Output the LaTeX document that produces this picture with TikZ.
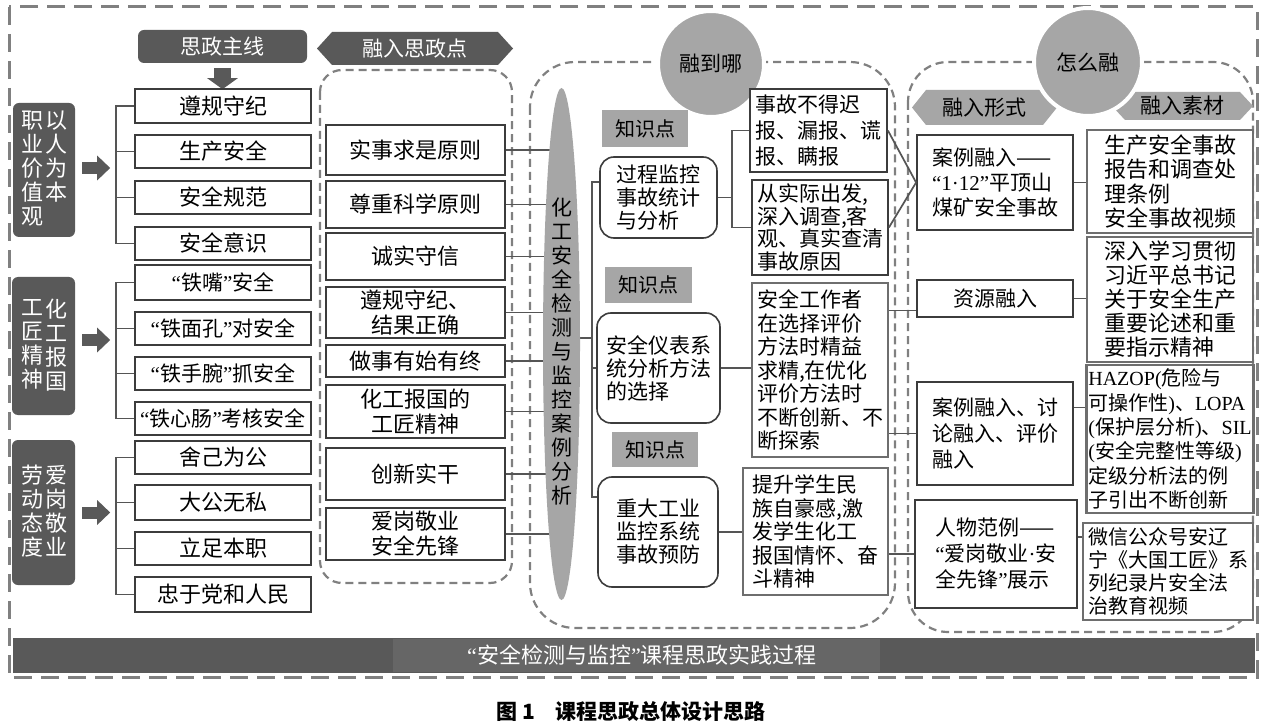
\documentclass[tikz,border=0pt]{standalone}
\usepackage{fontspec}
\setmainfont{Noto Sans CJK SC}
\newfontfamily\lat{Liberation Serif}
\usetikzlibrary{shapes.geometric,arrows.meta}
\definecolor{dk}{HTML}{595959}
\definecolor{band}{HTML}{666666}
\definecolor{md}{HTML}{A6A6A6}
\definecolor{ln}{HTML}{555555}
\definecolor{dsh}{HTML}{808080}
\definecolor{bx}{HTML}{3C3C3C}
\definecolor{bxg}{HTML}{6E6E6E}
\newcommand\fz[2]{\fontsize{#1}{#2}\selectfont}
\newcommand\oq{{\lat “}}
\newcommand\cq{{\lat ”}}
\begin{document}
\begin{tikzpicture}[x=1pt,y=-1pt,
  sbox/.style={draw=bx, line width=1.8pt, fill=white, inner sep=2pt, align=center, font=\fz{22}{25}},
  tbox/.style={draw=bx, line width=1.8pt, fill=white, inner sep=3pt, align=left, font=\fz{21}{23.5}},
  gbox/.style={draw=bxg, line width=2.8pt, fill=white, inner sep=2pt, align=left, font=\fz{22}{24.5}},
  rbox/.style={draw=bx, line width=1.6pt, fill=white, rounded corners=14pt, inner sep=3pt, align=left, font=\fz{21}{23}},
  dbox/.style={fill=dk, rounded corners=6pt, inner sep=0pt},
  vtxt/.style={text=white, align=center, font=\fz{22}{24}, inner sep=0pt},
  kbox/.style={fill=md, font=\fz{20}{24}, inner sep=0pt},
  circ/.style={circle, fill=md, draw=white, line width=4pt, inner sep=0pt, font=\fz{21}{25}},
  pillst/.style={ellipse, fill=md, inner sep=0pt, minimum width=37pt, minimum height=512pt},
  conn/.style={draw=ln, line width=1.7pt},
  region/.style={draw=dsh, line width=2.2pt, dash pattern=on 8pt off 5pt},
  barr/.style={dk, line width=12pt, -{Triangle[width=24pt,length=13pt]}},
]
\useasboundingbox (0,0) rectangle (1266,727);
\fill[white] (0,0) rectangle (1266,727);

% outer frame and regions
\draw[draw=dsh, line width=3pt, dash pattern=on 18pt off 9pt] (9,7) rectangle (1257,677);
\draw[region, rounded corners=22pt] (320,70) rectangle (512,583);
\draw[region, rounded corners=45pt] (530,62) rectangle (895,628);
\draw[region, rounded corners=40pt] (908,62) rectangle (1253,632);

% banners
\fill[dk] (317,48.5) -- (332,32) -- (498,32) -- (513,48.5) -- (498,65) -- (332,65) -- cycle;
\node[font=\fz{21}{25}, text=white] (h1) at (415,48.5) {融入思政点};
\fill[md] (912,107.5) -- (926,90) -- (1043,90) -- (1057,107.5) -- (1043,125) -- (926,125) -- cycle;
\node[font=\fz{21}{25}] (h2) at (984.5,107.5) {融入形式};
\fill[md] (1112,106) -- (1125,92) -- (1240,92) -- (1253,106) -- (1240,120) -- (1125,120) -- cycle;
\node[font=\fz{21}{25}] (h3) at (1182.5,106) {融入素材};

% circles
\node[circ, minimum size=106pt] (q1) at (711,64) {融到哪};
\node[circ, minimum size=108pt] (q2) at (1088,62) {怎么融};

% main line header
\node[dbox, text=white, font=\fz{21}{25}, minimum width=169pt, minimum height=33pt] (s) at (222.5,46.5) {思政主线};
\draw[dk, line width=17pt, -{Triangle[width=30pt,length=11pt]}] ([yshift=-5pt]s.south) -- ([yshift=-26pt]s.south);

% left column boxes
\node[sbox, minimum width=176pt, minimum height=34pt] (b1) at (223,106) {遵规守纪};
\node[sbox, minimum width=176pt, minimum height=33pt] (b2) at (223,151.5) {生产安全};
\node[sbox, minimum width=176pt, minimum height=33pt] (b3) at (223,197.5) {安全规范};
\node[sbox, minimum width=176pt, minimum height=33pt] (b4) at (223,243.5) {安全意识};
\node[sbox, font=\fz{21}{24}, minimum width=176pt, minimum height=35pt] (b5) at (223,282.5) {\oq 铁嘴\cq 安全};
\node[sbox, font=\fz{21}{24}, minimum width=176pt, minimum height=33pt] (b6) at (223,328.5) {\oq 铁面孔\cq 对安全};
\node[sbox, font=\fz{21}{24}, minimum width=176pt, minimum height=33pt] (b7) at (223,373.5) {\oq 铁手腕\cq 抓安全};
\node[sbox, font=\fz{21}{24}, minimum width=176pt, minimum height=33pt] (b8) at (223,418.5) {\oq 铁心肠\cq 考核安全};
\node[sbox, minimum width=176pt, minimum height=33pt] (b9) at (223,457.5) {舍己为公};
\node[sbox, minimum width=176pt, minimum height=35pt] (b10) at (223,502.5) {大公无私};
\node[sbox, minimum width=176pt, minimum height=33pt] (b11) at (223,548.5) {立足本职};
\node[sbox, minimum width=176pt, minimum height=35pt] (b12) at (223,594.5) {忠于党和人民};

% brackets
\draw[conn] (b1.west) -- ++(-18,0) |- (b4.west);
\draw[conn] (b2.west) -- ++(-18,0);
\draw[conn] (b3.west) -- ++(-18,0);
\draw[conn] (b5.west) -- ++(-18,0) |- (b8.west);
\draw[conn] (b6.west) -- ++(-18,0);
\draw[conn] (b7.west) -- ++(-18,0);
\draw[conn] (b9.west) -- ++(-18,0) |- (b12.west);
\draw[conn] (b10.west) -- ++(-18,0);
\draw[conn] (b11.west) -- ++(-18,0);

% dark value boxes
\node[dbox, minimum width=62pt, minimum height=134pt] (d1) at (44,170) {};
\node[vtxt, anchor=north] (d1a) at (56,111) {以\\人\\为\\本};
\node[vtxt, anchor=north] (d1b) at (32,111) {职\\业\\价\\值\\观};
\node[dbox, minimum width=63pt, minimum height=138pt] (d2) at (43.5,346) {};
\node[vtxt, anchor=north] (d2a) at (56,299) {化\\工\\报\\国};
\node[vtxt, anchor=north] (d2b) at (32,299) {工\\匠\\精\\神};
\node[dbox, minimum width=63pt, minimum height=145pt] (d3) at (43.5,512.5) {};
\node[vtxt, anchor=north] (d3a) at (56,465) {爱\\岗\\敬\\业};
\node[vtxt, anchor=north] (d3b) at (32,465) {劳\\动\\态\\度};
\draw[barr] ([xshift=7pt,yshift=2pt]d1.east) -- ([xshift=35pt,yshift=2pt]d1.east);
\draw[barr] ([xshift=7pt,yshift=6pt]d2.east) -- ([xshift=35pt,yshift=6pt]d2.east);
\draw[barr] ([xshift=7pt]d3.east) -- ([xshift=35pt]d3.east);

% ideology points
\node[sbox, minimum width=179pt, minimum height=50pt] (c1) at (415.5,150) {实事求是原则};
\node[sbox, minimum width=179pt, minimum height=47pt] (c2) at (415.5,204.5) {尊重科学原则};
\node[sbox, minimum width=179pt, minimum height=47pt] (c3) at (415.5,256.5) {诚实守信};
\node[sbox, minimum width=179pt, minimum height=51pt] (c4) at (415.5,312.5) {遵规守纪、\\结果正确};
\node[sbox, minimum width=179pt, minimum height=32pt] (c5) at (415.5,361) {做事有始有终};
\node[sbox, minimum width=179pt, minimum height=53pt] (c6) at (415.5,411.5) {化工报国的\\工匠精神};
\node[sbox, minimum width=179pt, minimum height=52pt] (c7) at (415.5,474) {创新实干};
\node[sbox, minimum width=179pt, minimum height=52pt] (c8) at (415.5,534) {爱岗敬业\\安全先锋};

% pill and its connectors
\coordinate (pc) at (561.5,344);
\coordinate (jn) at (592,338);
\coordinate (bt) at (592,182);
\coordinate (bb) at (592,497);
\foreach \n in {c1,c2,c3,c4,c5,c6,c7,c8} \draw[conn] (\n.east) -- (\n.east -| pc);
\draw[conn] (pc |- jn) -- (jn);
\node[pillst] (pill) at (pc) {};
\node[font=\fz{21}{24}, align=center, inner sep=0pt] (pilltxt) at (561.5,352) {化\\工\\安\\全\\检\\测\\与\\监\\控\\案\\例\\分\\析};

% knowledge points
\node[kbox, minimum width=86pt, minimum height=37pt] (k1) at (645,128.5) {知识点};
\node[kbox, minimum width=87pt, minimum height=36pt] (k2) at (648.5,285) {知识点};
\node[kbox, minimum width=86pt, minimum height=35pt] (k3) at (655,449.5) {知识点};
\node[rbox, minimum width=117pt, minimum height=81pt] (r1) at (658.5,197.5) {过程监控\\事故统计\\与分析};
\node[rbox, minimum width=123pt, minimum height=110pt] (r2) at (658.5,368) {安全仪表系\\统分析方法\\的选择};
\node[rbox, minimum width=120pt, minimum height=110pt] (r3) at (658,532) {重大工业\\监控系统\\事故预防};
\draw[conn] ([yshift=15.5pt]r1.west) -- (bt) -- (bb) -- ([yshift=35pt]r3.west);
\draw[conn] (r2.west) -- (r2.west -| bt);

% middle boxes
\node[tbox, font=\fz{21}{26}, minimum width=137pt, minimum height=83pt] (m1) at (818.5,130.5) {事故不得迟\\报、漏报、谎\\报、瞒报};
\node[tbox, font=\fz{21}{22.5}, minimum width=136pt, minimum height=95pt] (m2) at (820,227.5) {从实际出发,\\深入调查,客\\观、真实查清\\事故原因};
\node[tbox, draw=bxg, minimum width=136pt, minimum height=174pt] (m3) at (820,370) {安全工作者\\在选择评价\\方法时精益\\求精,在优化\\评价方法时\\不断创新、不\\断探索};
\node[tbox, draw=bxg, line width=2.6pt, minimum width=145pt, minimum height=127pt] (m4) at (815.5,531.5) {提升学生民\\族自豪感,激\\发学生化工\\报国情怀、奋\\斗精神};
\draw[conn] (r1.east) -- ([xshift=-17pt]m1.west |- r1.east);
\draw[conn] (m1.west) -- ++(-17,0) |- (m2.west);
\draw[conn] (r2.east) -- (r2.east -| m3.west);
\draw[conn] (r3.east) -- (r3.east -| m4.west);

% forms
\node[tbox, font=\fz{21}{25}, minimum width=156pt, minimum height=95pt] (f1) at (995,182.5) {案例融入——\\{\lat “1·12”}平顶山\\煤矿安全事故};
\node[tbox, font=\fz{21}{25}, align=center, minimum width=156pt, minimum height=37pt] (f2) at (995,298.5) {资源融入};
\node[tbox, font=\fz{21}{26}, minimum width=156pt, minimum height=103pt] (f3) at (995,433.5) {案例融入、讨\\论融入、评价\\融入};
\node[tbox, font=\fz{21}{26}, minimum width=162pt, minimum height=108pt] (f4) at (996,554) {人物范例——\\\oq 爱岗敬业{\lat ·}安\\全先锋\cq 展示};

% materials
\node[gbox, font=\fz{22}{24.5}, minimum width=166pt, minimum height=103pt] (g1) at (1170,181.5) {生产安全事故\\报告和调查处\\理条例\\安全事故视频};
\node[gbox, font=\fz{22}{24}, minimum width=166pt, minimum height=125pt] (g2) at (1170,299.5) {深入学习贯彻\\习近平总书记\\关于安全生产\\重要论述和重\\要指示精神};
\node[gbox, font=\fz{20}{24.3}, minimum width=166pt, minimum height=148pt] (g3) at (1170,439) {{\lat HAZOP(}危险与\\可操作性{\lat )}、{\lat LOPA}\\{\lat (}保护层分析{\lat )}、{\lat SIL}\\{\lat (}安全完整性等级{\lat )}\\定级分析法的例\\子引出不断创新};
\node[gbox, font=\fz{20}{23}, minimum width=170pt, minimum height=97pt] (g4) at (1168,571.5) {微信公众号安辽\\宁《大国工匠》系\\列纪录片安全法\\治教育视频};

% connectors into forms and materials
\draw[conn] (m1.east) -- (f1.west);
\draw[conn] (m2.east) -- (f1.west);
\draw[conn] ([yshift=-12pt]f2.west) -- ([yshift=-12pt]f2.west -| m3.east);
\draw[conn] (f3.west) -- (f3.west -| m3.east);
\draw[conn] (f4.west) -- (f4.west -| m4.east);
\draw[conn] (f1.east) -- (f1.east -| g1.west);
\draw[conn] (f2.east) -- (f2.east -| g2.west);
\draw[conn] ([yshift=26pt]f3.east) -- ([yshift=26pt]f3.east -| g3.west);
\draw[conn] ([yshift=17pt]f4.east) -- ([yshift=17pt]f4.east -| g4.west);

% bottom bar
\fill[dk] (13,638) rectangle (1255,673);
\fill[band] (393,639) rectangle (880,672);
\node[text=white, font=\fz{22}{25}] (bartxt) at (642,655.5) {\oq 安全检测与监控\cq 课程思政实践过程};

% caption
\node[font=\bfseries\fz{21}{25}] (cap) at (631,712) {图 1\quad 课程思政总体设计思路};
\end{tikzpicture}
\end{document}
